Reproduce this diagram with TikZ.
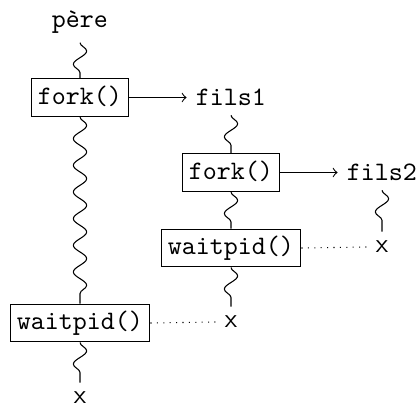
\documentclass[tikz,border=0pt]{standalone}
\usepackage{fontspec}
\usetikzlibrary{decorations.pathmorphing}
\begin{document}
\begin{tikzpicture}[x=0.375pt,y=-0.375pt,
  proc/.style={draw,font=\ttfamily,inner xsep=2.6pt,inner ysep=2.1pt,text height=7.5pt,text depth=2.5pt},
  lbl/.style={font=\ttfamily},
  endmark/.style={font=\sffamily},
  life/.style={decorate,decoration={snake,segment length=10pt,amplitude=2.5pt}},
  spawn/.style={->},
  waitline/.style={dotted}
  ]
\useasboundingbox (0,0) rectangle (416,405);
\node[lbl] (pere) at (80,22) {père};
\node[proc] (fork1) at (80,97.5) {fork()};
\node[lbl] (fils1) at (231,97.5) {fils1};
\node[proc] (fork2) at (231,172.5) {fork()};
\node[lbl] (fils2) at (382,172.5) {fils2};
\node[proc] (wait2) at (231,248) {waitpid()};
\node[endmark] (end2) at (382,247) {x};
\node[endmark] (end1) at (231,322) {x};
\node[proc] (wait1) at (80,323) {waitpid()};
\node[endmark] (end0) at (80,398) {x};

\draw[life] (pere.south) -- (fork1.north);
\draw[spawn] (fork1.east) -- (fils1.west);
\draw[life] (fork1.south) -- (wait1.north);
\draw[life] (fils1.south) -- (fork2.north);
\draw[spawn] (fork2.east) -- (fils2.west);
\draw[life] (fork2.south) -- (wait2.north);
\draw[life] (fils2.south) -- (end2.north);
\draw[waitline] (wait2.east) -- (end2.west);
\draw[life] (wait2.south) -- (end1.north);
\draw[waitline] (wait1.east) -- (end1.west);
\draw[life] (wait1.south) -- (end0.north);
\end{tikzpicture}
\end{document}
